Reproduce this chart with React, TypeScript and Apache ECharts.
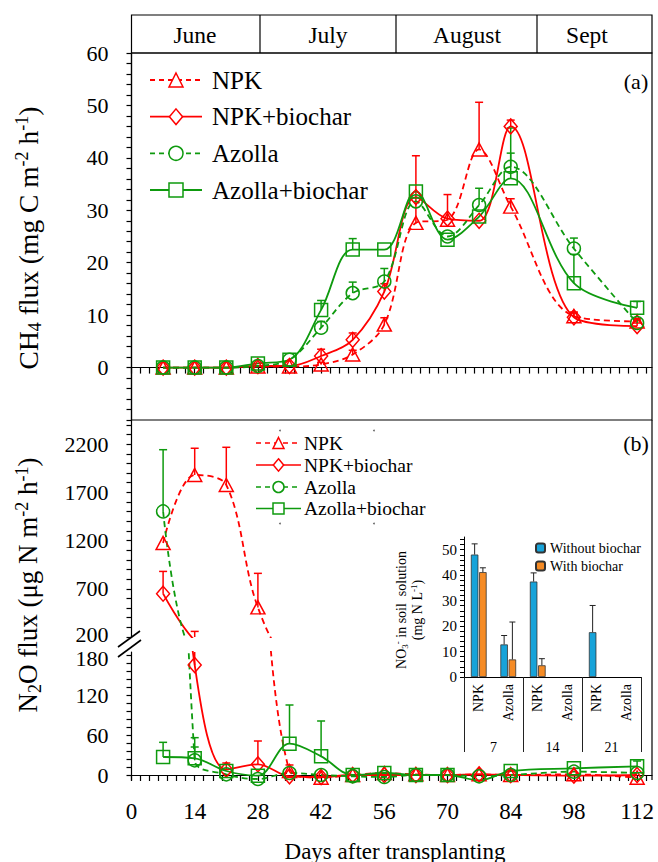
import React, { useEffect, useRef } from 'react';
import * as echarts from 'echarts';

const FONT = "'Liberation Serif', 'Times New Roman', serif";
const RED = '#ff0000';
const GREEN = '#0e9a0e';

// ---------- data ----------
const days = [7, 14, 21, 28, 35, 42, 49, 56, 63, 70, 77, 84, 98, 112];
const treatments = ['NPK', 'NPK+biochar', 'Azolla', 'Azolla+biochar'];
const monthLabels = ['June', 'July', 'August', 'Sept'];
const dayTickLabels = [0, 14, 28, 42, 56, 70, 84, 98, 112];
const ch4TickLabels = [0, 10, 20, 30, 40, 50, 60];
const n2oHighTickLabels = [200, 700, 1200, 1700, 2200];
const n2oLowTickLabels = [0, 60, 120, 180];
const insetTickLabels = [0, 10, 20, 30, 40, 50];

// CH4 flux (mg C m-2 h-1)
const ch4Npk = [0, 0, 0, 0.2, 0.2, 0.6, 2.5, 8.2, 27.6, 28.2, 41.6, 30.7, 9.8, 8.8];
const ch4NpkErr = [0, 0, 0, 0, 0, 0.4, 0.8, 1.3, 12.8, 0, 9.0, 1.5, 0.8, 0.5];
const ch4NpkBiochar = [0, 0, 0, 0.3, 0.3, 2.2, 5.3, 14.5, 32.5, 28.4, 28.0, 46.0, 9.6, 7.9];
const ch4NpkBiocharErr = [0, 0, 0, 0, 0, 1.3, 1.3, 1.5, 0, 4.6, 0, 1.2, 0.8, 0.6];
const ch4Azolla = [0, 0, 0, 0.3, 1.5, 7.6, 14.2, 16.4, 31.7, 25.0, 31.0, 38.3, 22.7, 8.5];
const ch4AzollaErr = [0, 0, 0, 0, 0, 1.2, 2.1, 2.5, 0, 0, 3.2, 2.6, 2.0, 0.5];
const ch4AzollaBiochar = [0, 0, 0, 0.8, 1.5, 11.0, 22.5, 22.5, 33.6, 24.4, 28.8, 36.1, 16.1, 11.4];
const ch4AzollaBiocharErr = [0, 0, 0, 0, 0, 1.8, 2.1, 0, 0, 0, 0, 9.6, 5.5, 1.2];

// N2O flux (ug N m-2 h-1)
const n2oNpk = [1175, 1880, 1776, 507, 6, -4, 0, 3, 1, 0, 1, 0, 1, -4];
const n2oNpkErr = [0, 277, 391, 353, 9, 0, 0, 0, 0, 0, 0, 0, 0, 0];
const n2oNpkBiochar = [649, 165, 8, 16, -2, -3, 0, 0, 0, 0, 1, 0, -1, 0];
const n2oNpkBiocharErr = [231, 93, 10, 35, 0, 0, 0, 0, 0, 0, 0, 0, 0, 0];
const n2oAzolla = [1502, 22, 1, -6, 3, 0, -2, -3, 0, 0, -2, 0, 5, 3];
const n2oAzollaErr = [640, 34, 0, 0, 0, 0, 0, 0, 0, 0, 0, 0, 0, 0];
const n2oAzollaBiochar = [27, 25, 6, -1, 47, 28, 0, 3, 0, 0, -8, 6, 10, 13];
const n2oAzollaBiocharErr = [22, 17, 0, 0, 58, 53, 0, 0, 0, 0, 0, 0, 0, 8];

// Inset: NO3- in soil solution (mg N L-1)
const insetGroups = ['7', '14', '21'];
const insetCats = ['NPK', 'Azolla', 'NPK', 'Azolla', 'NPK', 'Azolla'];
const insetSeriesNames = ['Without biochar', 'With biochar'];
const insetWithout = [48.1, 12.8, 37.5, null, 17.6, null];
const insetWithoutErr = [4.2, 3.5, 3.4, 0, 10.5, 0];
const insetWith = [41.2, 6.9, 4.6, null, null, null];
const insetWithErr = [1.7, 14.7, 2.6, 0, 0, 0];

// ---------- helpers ----------
const tickRange = (from: number, to: number, step: number) => {
  const out: number[] = [];
  for (let v = from; v <= to + 1e-9; v += step) out.push(Math.round(v * 1000) / 1000);
  return out;
};

const styles = [
  { color: RED, dashed: true, symbol: 'triangle', size: [14, 13] },
  { color: RED, dashed: false, symbol: 'diamond', size: [13, 15] },
  { color: GREEN, dashed: true, symbol: 'circle', size: 13 },
  { color: GREEN, dashed: false, symbol: 'rect', size: 13 },
];

const ch4Sets = [
  [ch4Npk, ch4NpkErr],
  [ch4NpkBiochar, ch4NpkBiocharErr],
  [ch4Azolla, ch4AzollaErr],
  [ch4AzollaBiochar, ch4AzollaBiocharErr],
];
const n2oSets = [
  [n2oNpk, n2oNpkErr],
  [n2oNpkBiochar, n2oNpkBiocharErr],
  [n2oAzolla, n2oAzollaErr],
  [n2oAzollaBiochar, n2oAzollaBiocharErr],
];

function lineSeries(name: string, values: number[], idx: number, st: any) {
  return {
    type: 'line',
    name,
    xAxisIndex: idx,
    yAxisIndex: idx,
    data: days.map((d, i) => [d, values[i]]),
    smooth: 0.35,
    clip: true,
    symbol: st.symbol,
    symbolSize: st.size,
    showAllSymbol: true,
    lineStyle: { color: st.color, width: 1.8, type: st.dashed ? [6, 4] : 'solid' },
    itemStyle: { color: 'transparent', borderColor: st.color, borderWidth: 1.5 },
    emphasis: { disabled: true },
    silent: true,
    z: 3,
  };
}

function errRender(color: string, lw: number, cap: number, offset: number) {
  return (params: any, api: any) => {
    const x = api.value(0);
    const y = api.value(1);
    const e = api.value(2);
    const sign = api.value(3) || 0;
    if (!e || isNaN(y)) return { type: 'group', children: [] };
    const p0 = api.coord([x, y]);
    const p1 = api.coord([x, y + e]);
    const dx = sign * offset;
    const st = { stroke: color, lineWidth: lw };
    return {
      type: 'group',
      children: [
        { type: 'line', shape: { x1: p0[0] + dx, y1: p0[1], x2: p1[0] + dx, y2: p1[1] }, style: st },
        { type: 'line', shape: { x1: p1[0] + dx - cap / 2, y1: p1[1], x2: p1[0] + dx + cap / 2, y2: p1[1] }, style: st },
      ],
    };
  };
}

function errSeries(values: number[], errs: number[], idx: number, color: string) {
  return {
    type: 'custom',
    xAxisIndex: idx,
    yAxisIndex: idx,
    clip: true,
    silent: true,
    data: days.map((d, i) => [d, values[i], errs[i], 0]),
    renderItem: errRender(color, 1.5, 8, 0),
    z: 2,
  };
}

function markerEl(sym: string, cx: number, cy: number, s: number, color: string) {
  const style = { fill: '#fff', stroke: color, lineWidth: 1.5 };
  if (sym === 'triangle')
    return { type: 'polygon', z: 101, shape: { points: [[cx, cy - s / 2], [cx + s / 2, cy + s / 2], [cx - s / 2, cy + s / 2]] }, style };
  if (sym === 'diamond')
    return { type: 'polygon', z: 101, shape: { points: [[cx, cy - s * 0.56], [cx + s * 0.47, cy], [cx, cy + s * 0.56], [cx - s * 0.47, cy]] }, style };
  if (sym === 'circle') return { type: 'circle', z: 101, shape: { cx, cy, r: s / 2 }, style };
  return { type: 'rect', z: 101, shape: { x: cx - s / 2, y: cy - s / 2, width: s, height: s }, style };
}

function legendEls(rows: number[], x1: number, x2: number, mx: number, tx: number, ms: number, fs: number, lw: number) {
  const els: any[] = [];
  treatments.forEach((name, k) => {
    const st = styles[k];
    const y = rows[k];
    const ls: any = { stroke: st.color, lineWidth: lw };
    if (st.dashed) ls.lineDash = [5, 4];
    els.push({ type: 'line', z: 100, shape: { x1, y1: y, x2, y2: y }, style: ls });
    els.push(markerEl(st.symbol, mx, y, ms, st.color));
    els.push({ type: 'text', z: 100, x: tx, y, style: { text: name, fontSize: fs, fontFamily: FONT, fill: '#000', align: 'left', verticalAlign: 'middle' } });
  });
  return els;
}

function richTitle(fs: number, lh: number) {
  return {
    n: { fontSize: fs, fontFamily: FONT, fill: '#000', lineHeight: lh },
    sb: { fontSize: Math.round(fs * 0.65), fontFamily: FONT, fill: '#000', lineHeight: Math.round(lh * 0.4), verticalAlign: 'bottom' },
    sp: { fontSize: Math.round(fs * 0.65), fontFamily: FONT, fill: '#000', lineHeight: Math.round(lh * 0.65), verticalAlign: 'top' },
  };
}

const black = { color: '#000', width: 1.2 };
const TICK_FS = 22;
const labelStyle = { color: '#000', fontFamily: FONT, fontSize: TICK_FS };
const plainFmt = (v: number) => String(v);

export default function App() {
  const ref = useRef<HTMLDivElement>(null);
  useEffect(() => {
    const chart = echarts.init(ref.current!, null, { renderer: 'svg' });

    const series: any[] = [];
    treatments.forEach((name, k) => {
      const st = styles[k];
      series.push(errSeries(ch4Sets[k][0], ch4Sets[k][1], 0, st.color));
      series.push(lineSeries(name, ch4Sets[k][0], 0, st));
      [1, 2].forEach((gi) => {
        series.push(errSeries(n2oSets[k][0], n2oSets[k][1], gi, st.color));
        series.push(lineSeries(name, n2oSets[k][0], gi, st));
      });
    });

    const barBase = {
      type: 'bar',
      xAxisIndex: 3,
      yAxisIndex: 3,
      barWidth: 7.5,
      barGap: '10%',
      silent: true,
      z: 5,
    };
    series.push({ ...barBase, name: insetSeriesNames[0], data: insetWithout, itemStyle: { color: '#17a3d9', borderColor: '#333', borderWidth: 0.8 } });
    series.push({ ...barBase, name: insetSeriesNames[1], data: insetWith, itemStyle: { color: '#f58b25', borderColor: '#333', borderWidth: 0.8 } });
    series.push({
      type: 'custom', xAxisIndex: 3, yAxisIndex: 3, silent: true, z: 6,
      data: insetCats.map((c, i) => [i, insetWithout[i] ?? NaN, insetWithoutErr[i], -1]),
      renderItem: errRender('#222', 1, 6, 4.125),
    });
    series.push({
      type: 'custom', xAxisIndex: 3, yAxisIndex: 3, silent: true, z: 6,
      data: insetCats.map((c, i) => [i, insetWith[i] ?? NaN, insetWithErr[i], 1]),
      renderItem: errRender('#222', 1, 6, 4.125),
    });

    const xBase = { type: 'value', min: 0, max: 115.3, splitLine: { show: false } };

    const graphic: any[] = [
      // month header
      { type: 'rect', shape: { x: 131.5, y: 15, width: 520.5, height: 38 }, style: { fill: 'none', stroke: '#000', lineWidth: 1.2 } },
      ...[260, 396, 537].map((x) => ({ type: 'line', shape: { x1: x, y1: 15, x2: x, y2: 53 }, style: { stroke: '#000', lineWidth: 1.2 } })),
      ...monthLabels.map((m, i) => ({
        type: 'text', x: [195, 328, 467, 587][i], y: 35,
        style: { text: m, fontSize: 23.5, fontFamily: FONT, fill: '#000', align: 'center', verticalAlign: 'middle' },
      })),
      // bottom panel right border
      { type: 'line', shape: { x1: 652, y1: 420, x2: 652, y2: 780 }, style: { stroke: '#000', lineWidth: 1.2 } },
      // axis break marks
      { type: 'line', z: 50, shape: { x1: 118, y1: 647, x2: 140, y2: 631 }, style: { stroke: '#000', lineWidth: 1.6 } },
      { type: 'line', z: 50, shape: { x1: 118, y1: 657, x2: 141, y2: 640 }, style: { stroke: '#000', lineWidth: 1.6 } },
      // panel labels
      { type: 'text', x: 636, y: 81, style: { text: '(a)', fontSize: 22, fontFamily: FONT, fill: '#000', align: 'center', verticalAlign: 'middle' } },
      { type: 'text', x: 636, y: 443, style: { text: '(b)', fontSize: 22, fontFamily: FONT, fill: '#000', align: 'center', verticalAlign: 'middle' } },
      // axis titles
      {
        type: 'text', x: 28, y: 238, rotation: Math.PI / 2,
        style: { text: '{n|CH}{sb|4}{n| flux (mg C m}{sp|-2}{n| h}{sp|-1}{n|)}', rich: richTitle(27.5, 31), align: 'center', verticalAlign: 'middle' },
      },
      {
        type: 'text', x: 28, y: 585, rotation: Math.PI / 2,
        style: { text: '{n|N}{sb|2}{n|O flux (\u03bcg N m}{sp|-2}{n| h}{sp|-1}{n|)}', rich: richTitle(27, 31), align: 'center', verticalAlign: 'middle' },
      },
      { type: 'text', x: 395, y: 851, style: { text: 'Days after transplanting', fontSize: 23, fontFamily: FONT, fill: '#000', align: 'center', verticalAlign: 'middle' } },
      // inset y title
      {
        type: 'text', x: 409, y: 610, rotation: Math.PI / 2,
        style: { text: '{n|NO}{sb|3}{sp|-}{n| in soil  solution}\n{n|(mg N L}{sp|-1}{n|)}', rich: richTitle(14, 16), align: 'center', verticalAlign: 'middle' },
      },
      // faint legend-box corner dots
      ...[[280, 430.5], [374, 430.5], [280, 523.5], [374, 523.5]].map(([cx, cy]) => ({ type: 'circle', shape: { cx, cy, r: 0.9 }, style: { fill: '#666' } })),
      ...legendEls([80, 116.7, 153.3, 190], 150, 202, 176, 212, 14, 25, 1.8),
      ...legendEls([443, 465, 487, 508.5], 256, 301, 278.5, 304, 11, 19.5, 1.4),
    ];

    const option: any = {
      animation: false,
      backgroundColor: '#fff',
      textStyle: { fontFamily: FONT },
      grid: [
        { left: 131.5, top: 53, width: 520.5, height: 367, show: true, borderColor: '#000', borderWidth: 1.2, backgroundColor: 'transparent' },
        { left: 131.5, top: 420, width: 520.5, height: 217 },
        { left: 131.5, top: 652, width: 520.5, height: 128 },
        { left: 464, top: 537, width: 177, height: 140 },
      ],
      xAxis: [
        {
          ...xBase, gridIndex: 0, axisLine: { show: true, lineStyle: black },
          axisTick: { show: true, length: 6, customValues: tickRange(0, 114, 2), lineStyle: black },
          axisLabel: { show: false },
        },
        { ...xBase, gridIndex: 1, show: false },
        {
          ...xBase, gridIndex: 2, axisLine: { show: true, lineStyle: black },
          axisTick: { show: true, length: 6, customValues: tickRange(0, 114, 2), lineStyle: black },
          axisLabel: { ...labelStyle, fontSize: 23, margin: 20, customValues: dayTickLabels, formatter: plainFmt },
        },
        {
          type: 'category', gridIndex: 3, data: insetCats, position: 'bottom',
          axisLine: { show: true, lineStyle: { color: '#000', width: 1 } },
          axisTick: { show: false },
          axisLabel: { rotate: 90, interval: 0, margin: 7, color: '#000', fontFamily: FONT, fontSize: 14 },
        },
        {
          type: 'category', gridIndex: 3, data: insetGroups, position: 'bottom',
          axisLine: { show: false },
          axisTick: { show: true, length: 75, interval: 0, alignWithLabel: false, lineStyle: { color: '#222', width: 1 } },
          axisLabel: { interval: 0, margin: 63, color: '#000', fontFamily: FONT, fontSize: 14 },
        },
      ],
      yAxis: [
        {
          type: 'value', gridIndex: 0, min: -10, max: 60, splitLine: { show: false },
          axisLine: { show: true, lineStyle: black },
          axisTick: { show: true, length: 5, customValues: tickRange(-10, 60, 2), lineStyle: black },
          axisLabel: { ...labelStyle, margin: 23, customValues: ch4TickLabels, formatter: plainFmt },
        },
        {
          type: 'value', gridIndex: 1, min: 200, max: 2450, splitLine: { show: false },
          axisLine: { show: true, lineStyle: black },
          axisTick: { show: true, length: 5, customValues: tickRange(200, 2400, 100), lineStyle: black },
          axisLabel: {
            ...labelStyle, margin: 23, customValues: n2oHighTickLabels,
            formatter: (v: number) => (v === 200 ? '{u|200}' : String(v)),
            rich: { u: { fontSize: TICK_FS, fontFamily: FONT, color: '#000', padding: [0, 0, 6, 0] } },
          },
        },
        {
          type: 'value', gridIndex: 2, min: -7.5, max: 184.5, splitLine: { show: false },
          axisLine: { show: true, lineStyle: black },
          axisTick: { show: true, length: 5, customValues: tickRange(0, 180, 12), lineStyle: black },
          axisLabel: {
            ...labelStyle, margin: 23, customValues: n2oLowTickLabels,
            formatter: (v: number) => (v === 180 ? '{d|180}' : String(v)),
            rich: { d: { fontSize: TICK_FS, fontFamily: FONT, color: '#000', padding: [6, 0, 0, 0] } },
          },
        },
        {
          type: 'value', gridIndex: 3, min: 0, max: 55, splitLine: { show: false },
          axisLine: { show: true, lineStyle: { color: '#000', width: 1 } },
          axisTick: { show: true, length: 4, customValues: tickRange(0, 54, 2), lineStyle: { color: '#000', width: 1 } },
          axisLabel: { color: '#000', fontFamily: FONT, fontSize: 15, margin: 7, customValues: insetTickLabels, formatter: plainFmt },
        },
      ],
      legend: {
        data: insetSeriesNames,
        left: 530, top: 536, orient: 'vertical', selectedMode: false,
        itemWidth: 9, itemHeight: 9, itemGap: 4,
        textStyle: { color: '#000', fontFamily: FONT, fontSize: 14 },
      },
      graphic,
      series,
    };

    chart.setOption(option);
    return () => chart.dispose();
  }, []);
  return <div ref={ref} style={{ position: 'absolute', left: 0, top: 0, width: 658, height: 862, background: '#fff' }} />;
}
